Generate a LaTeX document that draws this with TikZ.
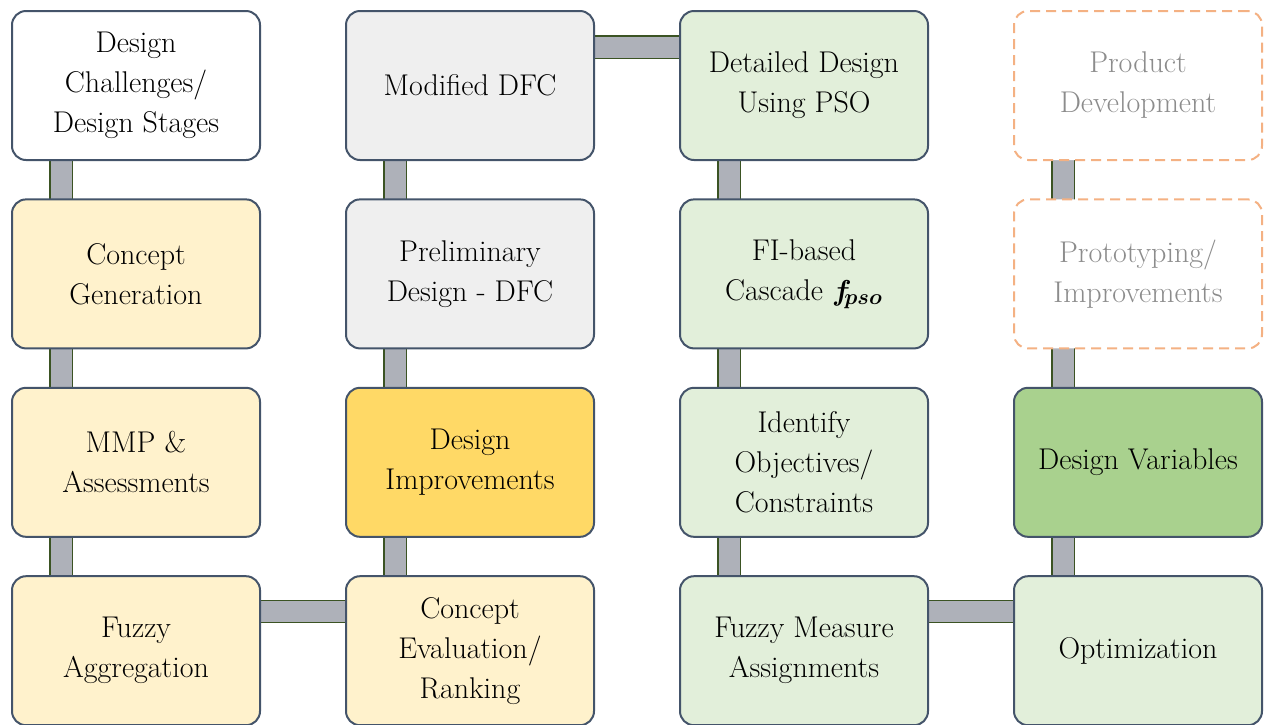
\documentclass[tikz,border=0pt]{standalone}
\usepackage{amsmath}
\usepackage{bm}
\usepackage{tikz}
\usetikzlibrary{positioning,backgrounds}
\definecolor{slate}{HTML}{44546A}
\definecolor{sand}{HTML}{FFF2CC}
\definecolor{gold}{HTML}{FFD966}
\definecolor{mist}{HTML}{EFEFEF}
\definecolor{mint}{HTML}{E2EFDA}
\definecolor{leaf}{HTML}{A9D18E}
\definecolor{peach}{HTML}{F4B183}
\definecolor{fog}{HTML}{8C8C8C}
\definecolor{bar}{HTML}{AEB1B9}
\definecolor{barEdge}{HTML}{3B5323}

\begin{document}
\begin{tikzpicture}[node distance=18.7pt and 42pt,
    box/.style={rounded corners=7pt,draw=slate,line width=1pt,fill=white,
      minimum width=124pt,minimum height=74.5pt,align=center,
      font=\fontsize{15}{20}\selectfont},
    ghost/.style={box,draw=peach,dash pattern=on 5pt off 3pt,text=fog},
    link/.style={draw=barEdge,line width=0.6pt,double=bar,double distance=10.5pt}]
    \useasboundingbox (0,0) rectangle (632.5pt,-362pt);
    % first column
    \node[box,anchor=north west] (ch) at (5.5pt,-5pt) {Design\\Challenges/\\Design Stages};
    \node[box,below=of ch,fill=sand] (cg) {Concept\\Generation};
    \node[box,below=of cg,fill=sand] (mmp) {MMP \&\\Assessments};
    \node[box,below=of mmp,fill=sand] (fa) {Fuzzy\\Aggregation};
    % second column
    \node[box,right=of fa,fill=sand] (ce) {Concept\\Evaluation/\\Ranking};
    \node[box,above=of ce,fill=gold] (di) {Design\\Improvements};
    \node[box,above=of di,fill=mist] (pd) {Preliminary\\Design - DFC};
    \node[box,above=of pd,fill=mist] (mdfc) {Modified DFC};
    % third column
    \node[box,right=of mdfc,fill=mint] (dd) {Detailed Design\\Using PSO};
    \node[box,below=of dd,fill=mint] (fi) {FI-based\\Cascade $\bm{f_{\!pso}}$};
    \node[box,below=of fi,fill=mint] (io) {Identify\\Objectives/\\Constraints};
    \node[box,below=of io,fill=mint] (fm) {Fuzzy Measure\\Assignments};
    % fourth column
    \node[box,right=of fm,fill=mint] (opt) {Optimization};
    \node[box,above=of opt,fill=leaf] (dv) {Design Variables};
    \node[ghost,above=of dv] (proto) {Prototyping/\\Improvements};
    \node[ghost,above=of proto] (prod) {Product\\Development};
    \begin{scope}[on background layer]
      \draw[link] ([xshift=25pt,yshift=2pt]ch.south west) -- ([xshift=25pt,yshift=-2pt]cg.north west);
      \draw[link] ([xshift=25pt,yshift=2pt]cg.south west) -- ([xshift=25pt,yshift=-2pt]mmp.north west);
      \draw[link] ([xshift=25pt,yshift=2pt]mmp.south west) -- ([xshift=25pt,yshift=-2pt]fa.north west);
      \draw[link] ([xshift=-2pt,yshift=-18pt]fa.north east) -- ([xshift=2pt,yshift=-18pt]ce.north west);
      \draw[link] ([xshift=25pt,yshift=-2pt]ce.north west) -- ([xshift=25pt,yshift=2pt]di.south west);
      \draw[link] ([xshift=25pt,yshift=-2pt]di.north west) -- ([xshift=25pt,yshift=2pt]pd.south west);
      \draw[link] ([xshift=25pt,yshift=-2pt]pd.north west) -- ([xshift=25pt,yshift=2pt]mdfc.south west);
      \draw[link] ([xshift=-2pt,yshift=-18.5pt]mdfc.north east) -- ([xshift=2pt,yshift=-18.5pt]dd.north west);
      \draw[link] ([xshift=25pt,yshift=2pt]dd.south west) -- ([xshift=25pt,yshift=-2pt]fi.north west);
      \draw[link] ([xshift=25pt,yshift=2pt]fi.south west) -- ([xshift=25pt,yshift=-2pt]io.north west);
      \draw[link] ([xshift=25pt,yshift=2pt]io.south west) -- ([xshift=25pt,yshift=-2pt]fm.north west);
      \draw[link] ([xshift=-2pt,yshift=-18pt]fm.north east) -- ([xshift=2pt,yshift=-18pt]opt.north west);
      \draw[link] ([xshift=25pt,yshift=-2pt]opt.north west) -- ([xshift=25pt,yshift=2pt]dv.south west);
      \draw[link] ([xshift=25pt,yshift=-2pt]dv.north west) -- ([xshift=25pt,yshift=2pt]proto.south west);
      \draw[link] ([xshift=25pt,yshift=-2pt]proto.north west) -- ([xshift=25pt,yshift=2pt]prod.south west);
    \end{scope}
  \end{tikzpicture}
\end{document}
